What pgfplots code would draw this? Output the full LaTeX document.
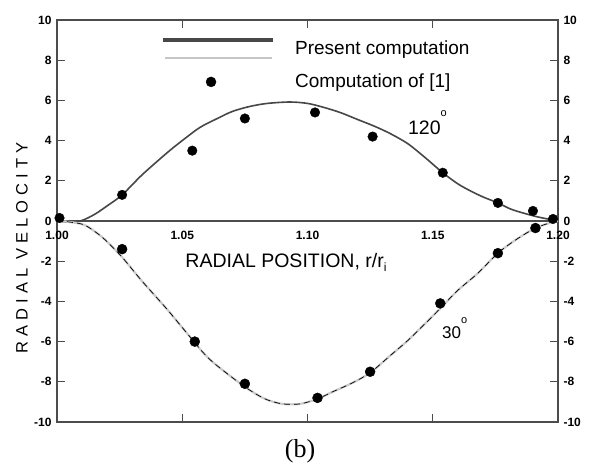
\documentclass[border=0pt]{standalone}
\usepackage{fontspec}
\setmainfont{Liberation Sans}
\newfontfamily\seriffont{Liberation Serif}
\usepackage{pgfplots}
\pgfplotsset{compat=1.18}
\definecolor{frame}{gray}{0.3}
\definecolor{curvedark}{gray}{0.28}
\begin{document}
\begin{tikzpicture}
\begin{axis}[
  at={(0,0)}, anchor=south west,
  width=501pt, height=402pt, scale only axis,
  xmin=1.0, xmax=1.2, ymin=-10, ymax=10,
  xtick={1.00,1.05,1.10,1.15,1.20},
  xticklabels={1.00,1.05,1.10,1.15,1.20},
  xticklabel style={yshift=194pt, font=\fontsize{12}{12}\selectfont\bfseries},
  ytick={-10,-8,...,10},
  yticklabel style={font=\fontsize{12}{12}\selectfont\bfseries, xshift=-2pt},
  /pgf/number format/assume math mode=true,
  tick align=inside, major tick length=8pt,
  xtick pos=both, ytick pos=both,
  xticklabel pos=lower, yticklabel pos=left,
  axis line style={draw=frame, line width=1.5pt},
  tick style={draw=frame, line width=1pt},
  clip=false,
  xlabel={RADIAL POSITION, r/r\raisebox{-4pt}{\fontsize{12}{12}\selectfont i}},
  xlabel style={at={(axis description cs:0.457,0.398)}, anchor=center, font=\fontsize{19.5}{20}\selectfont},
  ylabel={\addfontfeature{LetterSpace=30}RADIAL VELOCITY},
  ylabel style={at={(axis description cs:-0.07,0.433)}, anchor=center, font=\fontsize{16.5}{18}\selectfont},
]
% zero line
\addplot[draw=frame, line width=1.8pt] coordinates {(1.0,0) (1.2,0)};
% 120 degree curve
\addplot[curvedark, line width=1.6pt, smooth] coordinates {
(1.000,0.0) (1.005,-0.06) (1.010,0.03) (1.015,0.33) (1.020,0.75) (1.026,1.3)
(1.034,2.3) (1.044,3.4) (1.050,4.0) (1.057,4.65) (1.064,5.1) (1.070,5.45)
(1.077,5.7) (1.084,5.85) (1.093,5.92) (1.100,5.85) (1.106,5.67) (1.113,5.4)
(1.120,5.05) (1.127,4.7) (1.133,4.35) (1.140,3.85) (1.147,3.15) (1.154,2.4)
(1.160,1.85) (1.165,1.5) (1.170,1.2) (1.176,0.9) (1.181,0.6) (1.186,0.4)
(1.192,0.2) (1.198,0.05) (1.200,0.0)};
% 30 degree curve: light underlay and dashes
\addplot[gray!40, line width=2.2pt, smooth] coordinates {
(1.000,0) (1.005,-0.05) (1.011,-0.2) (1.017,-0.7) (1.021,-1.15) (1.026,-1.8)
(1.030,-2.4) (1.034,-3.0) (1.039,-3.7) (1.044,-4.4) (1.049,-5.15) (1.054,-5.9)
(1.058,-6.5) (1.062,-7.0) (1.068,-7.6) (1.075,-8.25) (1.080,-8.65) (1.084,-8.9)
(1.090,-9.1) (1.097,-9.1) (1.104,-8.85) (1.110,-8.5) (1.118,-8.05) (1.125,-7.55)
(1.133,-6.7) (1.140,-5.95) (1.147,-5.1) (1.153,-4.35) (1.160,-3.45) (1.168,-2.6)
(1.176,-1.6) (1.183,-0.95) (1.191,-0.35) (1.198,-0.05) (1.200,0)};
\addplot[black, line width=0.7pt, dash pattern=on 6pt off 4pt, smooth] coordinates {
(1.000,0) (1.005,-0.05) (1.011,-0.2) (1.017,-0.7) (1.021,-1.15) (1.026,-1.8)
(1.030,-2.4) (1.034,-3.0) (1.039,-3.7) (1.044,-4.4) (1.049,-5.15) (1.054,-5.9)
(1.058,-6.5) (1.062,-7.0) (1.068,-7.6) (1.075,-8.25) (1.080,-8.65) (1.084,-8.9)
(1.090,-9.1) (1.097,-9.1) (1.104,-8.85) (1.110,-8.5) (1.118,-8.05) (1.125,-7.55)
(1.133,-6.7) (1.140,-5.95) (1.147,-5.1) (1.153,-4.35) (1.160,-3.45) (1.168,-2.6)
(1.176,-1.6) (1.183,-0.95) (1.191,-0.35) (1.198,-0.05) (1.200,0)};
% data of [1]
\addplot[only marks, mark=*, mark size=4.8pt, black] coordinates {
(1.001,0.15) (1.026,1.3) (1.054,3.5) (1.075,5.1) (1.103,5.4) (1.126,4.2)
(1.154,2.4) (1.176,0.9) (1.190,0.5) (1.198,0.1)};
\addplot[only marks, mark=*, mark size=5pt, black] coordinates {
(1.026,-1.4) (1.055,-6.0) (1.075,-8.1) (1.104,-8.8) (1.125,-7.5)
(1.153,-4.1) (1.176,-1.6) (1.191,-0.35)};
% legend samples
\addplot[curvedark, line width=3.2pt] coordinates {(1.0423,9.0) (1.0862,9.0)};
\addplot[gray!45, line width=1.8pt] coordinates {(1.0431,8.11) (1.0858,8.11)};
\addplot[only marks, mark=*, mark size=5pt, black] coordinates {(1.0615,6.92)};
\node[anchor=base west, inner sep=0pt, font=\fontsize{19}{20}\selectfont] at (axis cs:1.0950,8.26) {Present computation};
\node[anchor=base west, inner sep=0pt, font=\fontsize{19}{20}\selectfont] at (axis cs:1.0950,6.62) {Computation of [1]};
\node[anchor=base west, inner sep=0pt, font=\fontsize{19.5}{20}\selectfont] at (axis cs:1.1401,4.28) {120\raisebox{18pt}{\fontsize{11}{11}\selectfont o}};
\node[anchor=base west, inner sep=0pt, font=\fontsize{17}{18}\selectfont] at (axis cs:1.1537,-5.87) {30\raisebox{15pt}{\fontsize{11}{11}\selectfont o}};
\end{axis}
\begin{axis}[
  at={(0,0)}, anchor=south west,
  width=501pt, height=402pt, scale only axis,
  xmin=1.0, xmax=1.2, ymin=-10, ymax=10,
  axis x line=none, axis y line*=right,
  axis line style={draw=none},
  ytick={-10,-8,...,10},
  major tick length=0pt,
  yticklabel style={font=\fontsize{12}{12}\selectfont\bfseries, xshift=2pt},
  /pgf/number format/assume math mode=true,
]
\addplot[draw=none] coordinates {(1.0,0)};
\end{axis}
\node[font=\seriffont\fontsize{26}{28}\selectfont] at (243pt,-29pt) {(b)};
\pgfresetboundingbox
\path (-57pt,-46pt) rectangle (535pt,422pt);
\end{tikzpicture}
\end{document}
